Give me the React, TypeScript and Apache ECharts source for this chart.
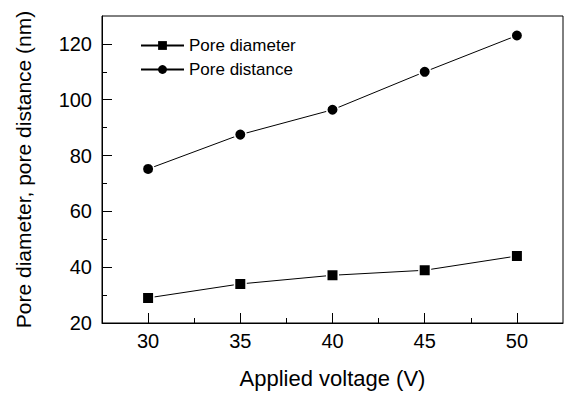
import React, { useEffect, useRef } from "react";
import * as echarts from "echarts";

const voltages = [30, 35, 40, 45, 50];
const poreDiameter = [29, 34, 37.1, 38.9, 44];
const poreDistance = [75.2, 87.5, 96.4, 110, 123];
const xMajorTicks = [30, 35, 40, 45, 50];
const xMinorTicks = [32.5, 37.5, 42.5, 47.5];
const yMajorTicks = [20, 40, 60, 80, 100, 120];
const yMinorTicks = [30, 50, 70, 90, 110];
const seriesNames = ["Pore diameter", "Pore distance"];
const xTitle = "Applied voltage (V)";
const yTitle = "Pore diameter, pore distance (nm)";

const FONT = "'Liberation Sans', Arial, Helvetica, sans-serif";

export default function App() {
  const ref = useRef<HTMLDivElement>(null);
  useEffect(() => {
    document.body.style.margin = "0";
    if (!ref.current) return;
    const chart = echarts.init(ref.current, null, { renderer: "svg" });
    const axisLine = { show: true, lineStyle: { color: "#000", width: 1 } };
    const baseX = { type: "value", min: 27.5, max: 52.5, gridIndex: 0, position: "bottom", splitLine: { show: false } };
    const baseY = { type: "value", min: 20, max: 130, gridIndex: 0, position: "left", splitLine: { show: false } };
    chart.setOption({
      animation: false,
      backgroundColor: "#fff",
      textStyle: { fontFamily: FONT, color: "#000" },
      grid: { left: 102, right: 4, top: 16, bottom: 70, show: true, borderColor: "#000", borderWidth: 1, backgroundColor: "transparent" },
      legend: {
        left: 140,
        top: 37,
        padding: 0,
        orient: "vertical",
        itemWidth: 43,
        itemHeight: 11,
        itemGap: 7,
        itemStyle: { borderWidth: 0 },
        textStyle: { fontFamily: FONT, fontSize: 17, color: "#000" },
        data: seriesNames,
      },
      xAxis: [
        {
          ...baseX,
          name: xTitle,
          nameLocation: "middle",
          nameGap: 44,
          nameTextStyle: { fontFamily: FONT, fontSize: 22, color: "#000" },
          axisLine,
          axisTick: { show: true, inside: true, length: 10, lineStyle: { color: "#000", width: 1 }, customValues: xMajorTicks },
          axisLabel: { show: true, margin: 8, fontSize: 20, color: "#000", fontFamily: FONT, customValues: xMajorTicks },
        },
        {
          ...baseX,
          axisLine: { show: false },
          axisTick: { show: true, inside: true, length: 5, lineStyle: { color: "#000", width: 1 }, customValues: xMinorTicks },
          axisLabel: { show: false },
        },
      ],
      yAxis: [
        {
          ...baseY,
          name: yTitle,
          nameLocation: "middle",
          nameGap: 68,
          nameTextStyle: { fontFamily: FONT, fontSize: 21, color: "#000" },
          axisLine,
          axisTick: { show: true, inside: true, length: 10, lineStyle: { color: "#000", width: 1 }, customValues: yMajorTicks },
          axisLabel: { show: true, margin: 10, fontSize: 20, color: "#000", fontFamily: FONT, customValues: yMajorTicks },
        },
        {
          ...baseY,
          axisLine: { show: false },
          axisTick: { show: true, inside: true, length: 5, lineStyle: { color: "#000", width: 1 }, customValues: yMinorTicks },
          axisLabel: { show: false },
        },
      ],
      series: [
        {
          name: seriesNames[0],
          type: "line",
          xAxisIndex: 0,
          yAxisIndex: 0,
          data: voltages.map((v, i) => [v, poreDiameter[i]]),
          symbol: "rect",
          symbolSize: 11.5,
          lineStyle: { color: "#000", width: 1 },
          itemStyle: { color: "#000", borderColor: "#fff", borderWidth: 1.5 },
        },
        {
          name: seriesNames[1],
          type: "line",
          xAxisIndex: 0,
          yAxisIndex: 0,
          data: voltages.map((v, i) => [v, poreDistance[i]]),
          symbol: "circle",
          symbolSize: 11.5,
          lineStyle: { color: "#000", width: 1 },
          itemStyle: { color: "#000", borderColor: "#fff", borderWidth: 1.5 },
        },
      ],
    });
    return () => chart.dispose();
  }, []);
  return (
    <div
      ref={ref}
      style={{ width: 567, height: 394, position: "absolute", left: 0, top: 0, background: "#fff" }}
    />
  );
}
